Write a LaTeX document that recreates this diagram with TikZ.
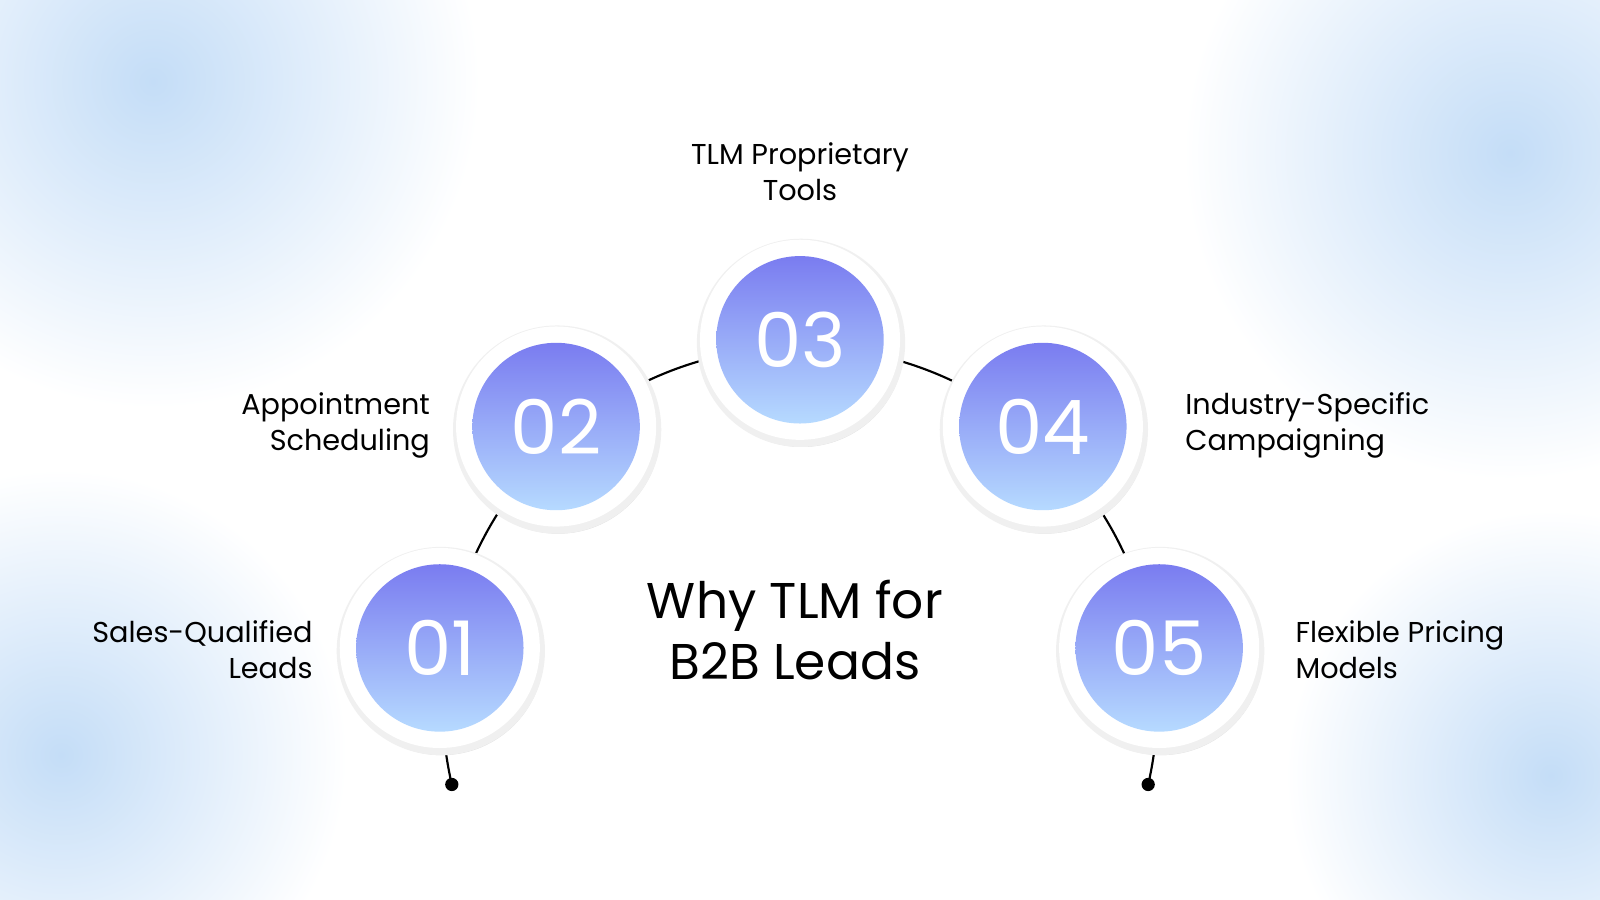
\documentclass[tikz,border=0pt]{standalone}
\usepackage{fontspec}
\setmainfont{Poppins}
\usetikzlibrary{positioning}
\usetikzlibrary{calc}
\definecolor{topblue}{HTML}{7A7CF0}
\definecolor{botblue}{HTML}{B6DAFF}
\definecolor{haze}{HTML}{C4DDF7}
\tikzset{
  ring/.style={circle, fill=white, minimum size=1.96cm, inner sep=0pt},
  ball/.style={circle, top color=topblue, bottom color=botblue, minimum size=1.64cm,
    inner sep=0pt, text=white, font=\fontsize{21}{21}\selectfont},
  caption/.style={font=\fontsize{8}{10}\selectfont, inner sep=0pt}
}
\begin{document}
\begin{tikzpicture}[x=0.01cm,y=-0.01cm]
\useasboundingbox (0,0) rectangle (1568,882);
\fill[white] (0,0) rectangle (1568,882);
% hazy corners
\begin{scope}
  \clip (0,0) rectangle (1568,882);
  \foreach \px/\py/\r in {150/80/3.2, 1480/150/3.2, 60/740/2.8, 1520/760/2.6}
    \shade[inner color=haze, outer color=white] (\px,\py) circle (\r cm);
\end{scope}

% arc behind the circles
\coordinate (hub) at (784,690);
\draw[line width=0.6pt] ($(hub)+(193:3.5cm)$) arc (193:-13:3.5cm);
\fill ($(hub)+(193:3.5cm)$) circle (0.065cm);
\fill ($(hub)+(-13:3.5cm)$) circle (0.065cm);

% steps
\foreach \n/\px/\py in {01/431/635, 02/545/418, 03/784/333, 04/1022/418, 05/1136/635}{
  \fill[black!12] (\px+2,\py+5) circle (1.0cm);
  \fill[black!6] (\px+1,\py+3) circle (1.02cm);
  \node[ring] (r\n) at (\px,\py) {};
  \node[ball] (c\n) at (\px,\py) {\n};
}

\node[caption, align=right, anchor=east] (t01) at (307,637) {Sales-Qualified\\Leads};
\node[caption, align=right, anchor=east] (t02) at (422,417) {Appointment\\Scheduling};
\node[caption, align=center] (t03) at (784,168) {TLM Proprietary\\Tools};
\node[caption, align=left, anchor=west] (t04) at (1161,417) {Industry-Specific\\Campaigning};
\node[caption, align=left, anchor=west] (t05) at (1269,637) {Flexible Pricing\\Models};

\node[font=\fontsize{14}{17}\selectfont, align=center] (title) at (779,617) {Why TLM for\\B2B Leads};
\end{tikzpicture}
\end{document}
